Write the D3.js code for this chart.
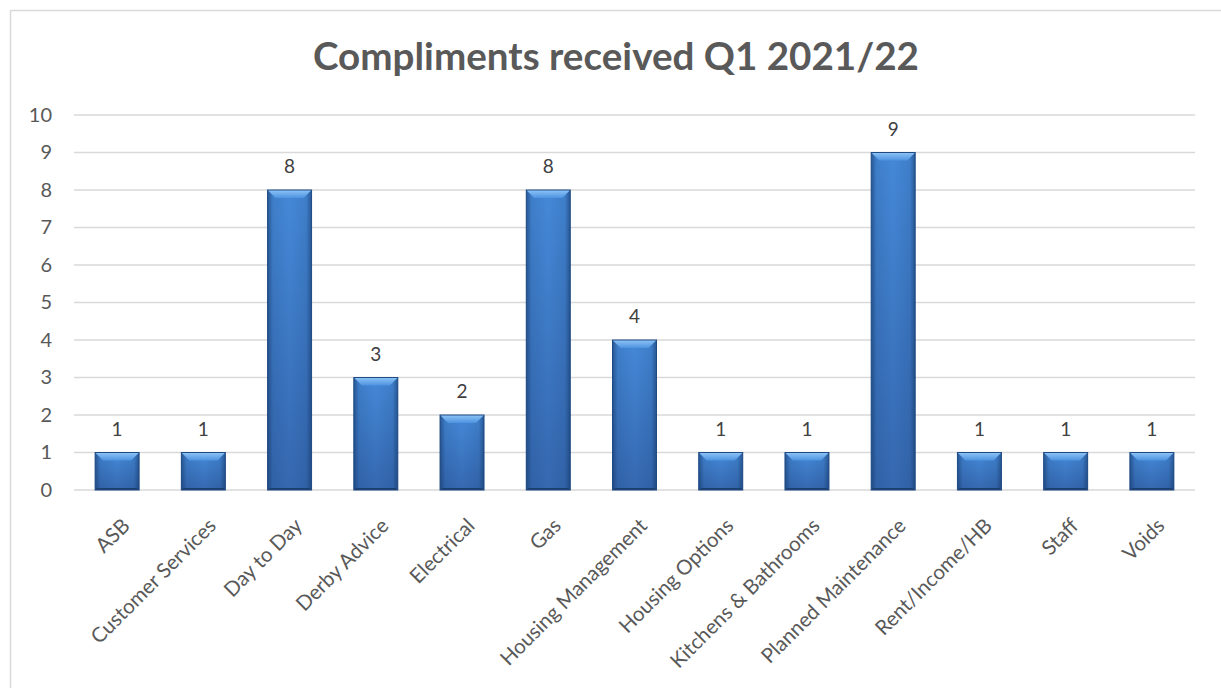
<!DOCTYPE html>
<html><head><meta charset="utf-8">
<script src="https://cdn.jsdelivr.net/npm/d3@7"></script>
<style>body{margin:0;background:#fff;} text{font-family:Lato,"Open Sans",sans-serif;}</style>
</head><body>
<svg id="c" width="1221" height="688"></svg>
<script>
const categories = ["ASB","Customer Services","Day to Day","Derby Advice","Electrical","Gas","Housing Management","Housing Options","Kitchens & Bathrooms","Planned Maintenance","Rent/Income/HB","Staff","Voids"];
const values = [1,1,8,3,2,8,4,1,1,9,1,1,1];
const yTicks = [0,1,2,3,4,5,6,7,8,9,10];
const title = "Compliments received Q1 2021/22";

const svg = d3.select("#c");
const W = 1221, H = 688;
const m = {left:74, right:26, top:115, bottom:198};

// chart border (extends beyond right and bottom edges)
svg.append("rect").attr("x",10.5).attr("y",10.5).attr("width",W+20).attr("height",H+20)
  .attr("fill","#fff").attr("stroke","#d9d9d9").attr("stroke-width",1.5);

const defs = svg.append("defs");
const gv = defs.append("linearGradient").attr("id","gv").attr("x1",0).attr("y1",0).attr("x2",0).attr("y2",1);
gv.append("stop").attr("offset","0%").attr("stop-color","#4589d8");
gv.append("stop").attr("offset","100%").attr("stop-color","#3568b0");
const gh = defs.append("linearGradient").attr("id","gh").attr("x1",0).attr("y1",0).attr("x2",1).attr("y2",0);
gh.append("stop").attr("offset","0%").attr("stop-color","#10305e").attr("stop-opacity",0.55);
gh.append("stop").attr("offset","12%").attr("stop-color","#10305e").attr("stop-opacity",0.12);
gh.append("stop").attr("offset","50%").attr("stop-color","#10305e").attr("stop-opacity",0);
gh.append("stop").attr("offset","88%").attr("stop-color","#10305e").attr("stop-opacity",0.12);
gh.append("stop").attr("offset","100%").attr("stop-color","#10305e").attr("stop-opacity",0.55);
const gt = defs.append("linearGradient").attr("id","gt").attr("x1",0).attr("y1",0).attr("x2",0).attr("y2",1);
gt.append("stop").attr("offset","0%").attr("stop-color","#8ec4f7");
gt.append("stop").attr("offset","100%").attr("stop-color","#4e93e0");

const x = d3.scaleBand().domain(categories).range([m.left, W-m.right]).paddingInner(0.49).paddingOuter(0.245);
const y = d3.scaleLinear().domain([0,10]).range([H-m.bottom, m.top]);

// title
svg.append("text").attr("x",616).attr("y",70).attr("text-anchor","middle")
  .attr("font-size",38).attr("font-weight","bold").attr("fill","#595959")
  .attr("textLength",606).attr("lengthAdjust","spacingAndGlyphs").text(title);

// gridlines
svg.append("g").selectAll("line").data(yTicks).join("line")
  .attr("x1",m.left).attr("x2",W-m.right).attr("y1",d=>y(d)).attr("y2",d=>y(d))
  .attr("stroke","#d9d9d9").attr("stroke-width",1.5);

// y axis labels
const ya = svg.append("g").attr("transform",`translate(${m.left},0)`)
  .call(d3.axisLeft(y).tickValues(yTicks).tickSize(0).tickPadding(22));
ya.select(".domain").remove();
ya.selectAll("text").attr("font-size",20).attr("fill","#595959").attr("font-family","Lato, sans-serif");

// bars
const bw = x.bandwidth();
const bars = svg.append("g").selectAll("g").data(categories).join("g");
bars.append("rect").attr("x",d=>x(d)).attr("y",(d,i)=>y(values[i])).attr("width",bw)
  .attr("height",(d,i)=>y(0)-y(values[i])).attr("fill","url(#gv)");
bars.append("rect").attr("x",d=>x(d)).attr("y",(d,i)=>y(values[i])).attr("width",bw)
  .attr("height",(d,i)=>y(0)-y(values[i])).attr("fill","url(#gh)");
const bev = 8;
bars.append("path").attr("d",(d,i)=>{const x0=x(d),x1=x0+bw,t=y(values[i]);
  return `M${x0},${t}L${x1},${t}L${x1-bev},${t+bev}L${x0+bev},${t+bev}Z`;}).attr("fill","url(#gt)");
bars.append("path").attr("d",(d,i)=>{const x0=x(d),x1=x0+bw,b=y(0);
  return `M${x0},${b}L${x1},${b}L${x1-2},${b-2}L${x0+2},${b-2}Z`;}).attr("fill","#1d3f70");
bars.append("rect").attr("x",d=>x(d)).attr("y",(d,i)=>y(values[i])).attr("width",bw)
  .attr("height",(d,i)=>y(0)-y(values[i])).attr("fill","none").attr("stroke","#1f4a84").attr("stroke-width",1);

// data labels
svg.append("g").selectAll("text").data(categories).join("text")
  .attr("x",d=>x(d)+bw/2).attr("y",(d,i)=>y(values[i])-17).attr("text-anchor","middle")
  .attr("font-size",19).attr("fill","#404040").text((d,i)=>values[i]);

// x labels
const xa = svg.append("g").attr("transform",`translate(0,${y(0)})`)
  .call(d3.axisBottom(x).tickSize(0).tickPadding(0));
xa.select(".domain").remove();
xa.selectAll("text").attr("font-size",20.5).attr("fill","#595959").attr("font-family","Lato, sans-serif")
  .attr("text-anchor","end").attr("dy",0)
  .attr("transform","translate(14,37) rotate(-45)");
</script>
</body></html>
